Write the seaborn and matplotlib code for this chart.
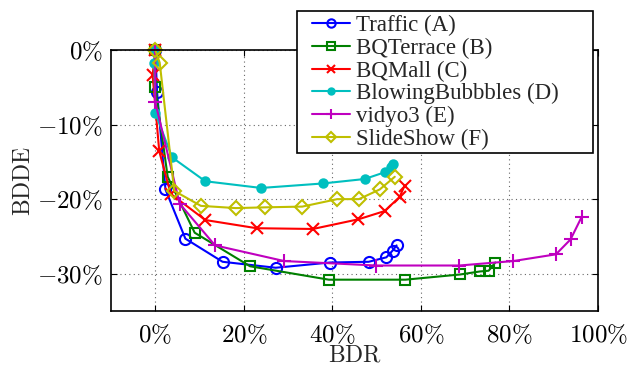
import matplotlib
matplotlib.use("Agg")
import matplotlib.pyplot as plt
from matplotlib.patches import Rectangle
import seaborn as sns
import pandas as pd

# BDR / BDDE curves for each sequence (percent)
traffic_bdr = [0, 0.4, 2.3, 6.8, 15.2, 27.2, 39.4, 48.2, 52.2, 53.6, 54.5]
traffic_bdde = [0, -5.6, -18.7, -25.3, -28.4, -29.2, -28.5, -28.4, -27.8, -26.9, -26.2]

bqterrace_bdr = [0, 0, 2.8, 8.9, 21.4, 39.2, 56.5, 68.9, 73.3, 75.3, 76.8]
bqterrace_bdde = [0, -5.0, -17.0, -24.5, -29.0, -30.8, -30.8, -30.1, -29.7, -29.6, -28.5]

bqmall_bdr = [0, -0.6, 0.9, 3.5, 11.3, 22.9, 35.6, 45.9, 51.8, 55.2, 56.3]
bqmall_bdde = [0, -3.4, -13.6, -19.3, -22.8, -23.9, -24.0, -22.7, -21.6, -19.7, -18.2]

bubbles_bdr = [0, -0.2, 0, 3.8, 11.3, 23.9, 37.8, 47.3, 51.8, 53.3, 53.7]
bubbles_bdde = [0, -1.7, -8.4, -14.4, -17.6, -18.5, -17.9, -17.3, -16.4, -15.7, -15.3]

vidyo_bdr = [0, 0, 5.5, 13.5, 29.1, 49.9, 68.7, 80.9, 90.5, 93.8, 96.3]
vidyo_bdde = [0, -7.0, -20.6, -26.2, -28.3, -28.9, -28.9, -28.3, -27.4, -25.4, -22.4]

slideshow_bdr = [0, 1.0, 4.3, 10.3, 18.2, 24.8, 33.2, 41.1, 46.0, 50.7, 54.1]
slideshow_bdde = [0, -1.7, -18.9, -20.9, -21.2, -21.1, -21.0, -20.0, -20.0, -18.7, -17.0]

labels = ["Traffic (A)", "BQTerrace (B)", "BQMall (C)",
          "BlowingBubbbles (D)", "vidyo3 (E)", "SlideShow (F)"]

x_ticks = [0, 20, 40, 60, 80, 100]
y_ticks = [0, -10, -20, -30]

sns.set_theme(style="white")
plt.rcParams["mathtext.fontset"] = "cm"
plt.rcParams["font.family"] = ["Liberation Serif", "DejaVu Serif"]

fig = plt.figure(figsize=(6.31, 3.70), dpi=100)
ax = fig.add_axes([111 / 631, 1 - 311 / 370, (598 - 111) / 631, (311 - 50) / 370])

series = [
    (traffic_bdr, traffic_bdde, dict(color="#0000ff", marker="o", markersize=8, markerfacecolor="none")),
    (bqterrace_bdr, bqterrace_bdde, dict(color="#008000", marker="s", markersize=7, markerfacecolor="none")),
    (bqmall_bdr, bqmall_bdde, dict(color="#ff0000", marker="x", markersize=8)),
    (bubbles_bdr, bubbles_bdde, dict(color="#00bfbf", marker="o", markersize=6)),
    (vidyo_bdr, vidyo_bdde, dict(color="#bf00bf", marker="+", markersize=10)),
    (slideshow_bdr, slideshow_bdde, dict(color="#bfbf00", marker="D", markersize=7, markerfacecolor="none")),
]

for (xs, ys, style), name in zip(series, labels):
    df = pd.DataFrame({"BDR": xs, "BDDE": ys})
    sns.lineplot(data=df, x="BDR", y="BDDE", ax=ax, sort=False, estimator=None,
                 linewidth=1.5, markeredgewidth=1.5, markeredgecolor=style["color"],
                 label=name, clip_on=False, **style)

ax.set_xlim(-10, 100)
ax.set_ylim(-35, 0)
ax.set_xticks(x_ticks)
ax.set_yticks(y_ticks)
ax.set_xticklabels([rf"${v}\%$" for v in x_ticks])
ax.set_yticklabels([rf"${v}\%$" for v in y_ticks])
ax.tick_params(direction="in", length=4, width=0.8, colors="black",
               labelsize=18, top=True, right=True, bottom=True, left=True)
ax.tick_params(axis="x", pad=9)
ax.tick_params(axis="y", pad=6)
ax.grid(True, linestyle=(0, (1, 3)), color="#666666", linewidth=0.8)
for sp in ax.spines.values():
    sp.set_color("black")
    sp.set_linewidth(1.2)

ax.set_xlabel(r"$\mathrm{BDR}$", fontsize=17, labelpad=-1)
ax.set_ylabel(r"$\mathrm{BDDE}$", fontsize=17, labelpad=1)

# Legend: white framed box on top of the axes, entries placed inside it
handles, names = ax.get_legend_handles_labels()
ax.get_legend().remove()

box = Rectangle((297 / 631, 1 - 153 / 370), (593 - 297) / 631, (153 - 11) / 370,
                transform=fig.transFigure, facecolor="white", edgecolor="black",
                linewidth=1.2, zorder=2)
fig.patches.append(box)

leg = fig.legend(handles, names, loc="upper left",
                 bbox_to_anchor=(312 / 631, 1 - 15 / 370),
                 bbox_transform=fig.transFigure, borderaxespad=0, borderpad=0,
                 fontsize=16.5, labelspacing=0.07, handlelength=1.65,
                 handletextpad=0.25, frameon=False, markerscale=0.75)
leg.set_zorder(3)

fig.savefig("out.png", dpi=100)
